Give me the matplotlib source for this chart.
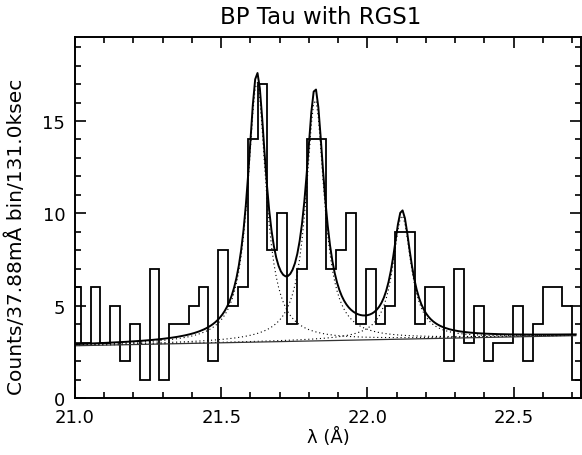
import numpy as np
import matplotlib
matplotlib.use("Agg")
import matplotlib.pyplot as plt
from matplotlib.ticker import MultipleLocator

# binned RGS1 counts
first_edge = 20.986
bin_width = 0.0336
counts = [6, 3, 6, 3, 5, 2, 4, 1, 7, 1, 4, 4, 5, 6, 2, 8, 5, 6, 14, 17,
          8, 10, 4, 7, 14, 14, 7, 8, 10, 4, 7, 4, 5, 9, 9, 4, 6, 6, 2, 7,
          3, 5, 2, 3, 3, 5, 2, 4, 6, 6, 5, 1]

# fitted model: three lines on a linear continuum
line_centers = [21.622, 21.821, 22.118]
line_amps = [14.1, 13.1, 6.7]
line_hwhm = 0.038
bg_start = 2.83   # at 21.0 A
bg_end = 3.38     # at 22.72 A

def profile(x, c, a):
    return a / (1.0 + ((x - c) / line_hwhm) ** 2)

def main():
    edges = first_edge + bin_width * np.arange(len(counts) + 1)

    fig = plt.figure(figsize=(5.82, 4.56), dpi=100)
    ax = fig.add_axes([75 / 582, 57 / 456, 506 / 582, 361 / 456])

    ax.stairs(counts, edges, color='black', lw=1.3)

    x = np.arange(21.0, 22.72, 0.008)
    bg = bg_start + (bg_end - bg_start) * (x - 21.0) / 1.72
    total = bg.copy()
    for c, a in zip(line_centers, line_amps):
        comp = profile(x, c, a)
        total += comp
        ax.plot(x, bg + comp, color='black', ls=(0, (1, 2.5)), lw=0.8)
    ax.plot(x, bg, color='#333333', lw=0.9)
    ax.plot(x, total, color='black', lw=1.4)

    ax.set_xlim(21.0, 22.73)
    ax.set_ylim(0, 19.55)
    ax.xaxis.set_major_locator(MultipleLocator(0.5))
    ax.xaxis.set_minor_locator(MultipleLocator(0.1))
    ax.yaxis.set_major_locator(MultipleLocator(5))
    ax.yaxis.set_minor_locator(MultipleLocator(1))
    ax.xaxis.set_major_formatter(matplotlib.ticker.FormatStrFormatter('%.1f'))
    ax.tick_params(which='both', direction='in', top=True, right=True,
                   labelsize=13, width=1.2)
    ax.tick_params(which='major', length=8, pad=7)
    ax.tick_params(which='minor', length=4)
    for s in ax.spines.values():
        s.set_linewidth(1.4)

    ax.set_title('BP Tau with RGS1', fontsize=16.5, pad=10, x=0.485)
    ax.set_xlabel('λ (Å)', fontsize=13, labelpad=1)
    ax.set_ylabel('Counts/37.88mÅ bin/131.0ksec', fontsize=14.5)
    ax.yaxis.set_label_coords(-0.097, 0.45)

    fig.savefig('out.png', dpi=100)

if __name__ == '__main__':
    main()
